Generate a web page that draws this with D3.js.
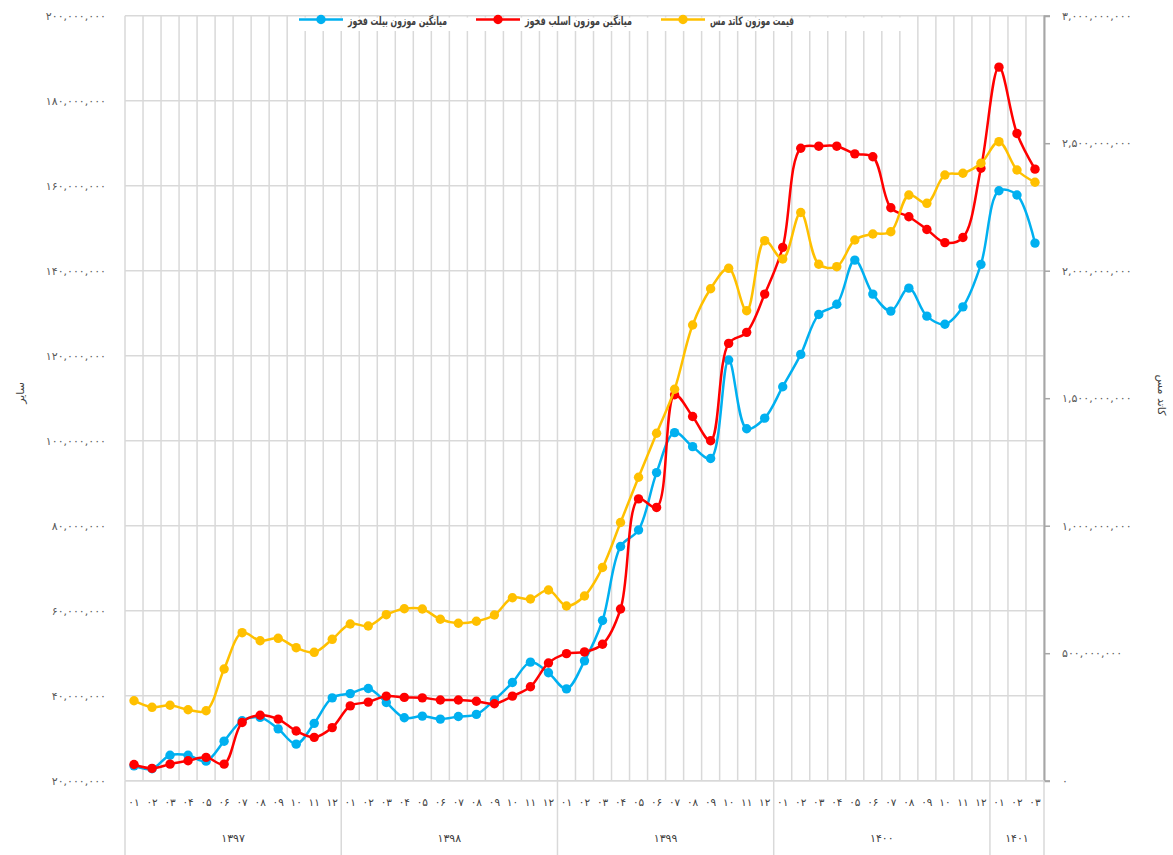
<!DOCTYPE html>
<html><head><meta charset="utf-8">
<script src="https://cdn.jsdelivr.net/npm/d3@7"></script>
<style>
html,body{margin:0;padding:0;background:#fff;}
svg{display:block;font-family:"DejaVu Sans","Noto Sans",sans-serif;}
</style></head>
<body><svg id="chart" width="1173" height="855"></svg>
<script>
// ---- data ----
const months = ["۰۱","۰۲","۰۳","۰۴","۰۵","۰۶","۰۷","۰۸","۰۹","۱۰","۱۱","۱۲",
                "۰۱","۰۲","۰۳","۰۴","۰۵","۰۶","۰۷","۰۸","۰۹","۱۰","۱۱","۱۲",
                "۰۱","۰۲","۰۳","۰۴","۰۵","۰۶","۰۷","۰۸","۰۹","۱۰","۱۱","۱۲",
                "۰۱","۰۲","۰۳","۰۴","۰۵","۰۶","۰۷","۰۸","۰۹","۱۰","۱۱","۱۲",
                "۰۱","۰۲","۰۳"];
const years = ["۱۳۹۷","۱۳۹۸","۱۳۹۹","۱۴۰۰","۱۴۰۱"];
const yearLengths = [12,12,12,12,3];
const seriesNames = ["میانگین موزون بیلت فخوز","میانگین موزون اسلب فخوز","قیمت موزون کاتد مس"];
// left axis (Rial)
const billet = [23.5,22.8,26.0,26.0,24.6,29.3,34.1,34.9,32.2,28.6,33.5,39.5,
                40.5,41.7,38.4,34.8,35.2,34.5,35.1,35.6,39.0,43.1,47.9,45.4,
                41.6,48.2,57.7,75.1,79.0,92.5,101.9,98.6,95.8,119.0,102.8,105.3,
                112.7,120.3,129.7,132.1,142.5,134.5,130.5,135.9,129.3,127.4,131.5,141.5,
                158.8,157.8,146.5].map(v=>v*1e6);
const slab = [23.8,22.9,23.9,24.7,25.5,23.9,33.7,35.4,34.5,31.7,30.2,32.5,
              37.6,38.5,39.9,39.6,39.5,39.0,39.0,38.7,38.1,39.9,42.1,47.7,
              49.9,50.3,52.1,60.4,86.3,84.3,110.8,105.7,100.0,122.9,125.5,134.5,
              145.5,168.8,169.3,169.3,167.5,166.8,154.8,152.7,149.7,146.6,147.8,164.1,
              187.9,172.3,163.9].map(v=>v*1e6);
// right axis (copper cathode)
const cathode = [313.7,287.8,295.7,278.4,274.5,438.0,580.4,549.0,558.4,521.6,503.5,554.5,
                 614.5,606.7,651.0,674.5,673.3,633.0,617.3,625.1,649.8,717.6,712.6,747.8,
                 685.1,724.3,836.1,1012.5,1189.8,1362.4,1534.9,1787.1,1929.4,2009.4,1843.2,2117.7,
                 2045.9,2228.2,2025.1,2015.7,2120.4,2143.9,2152.9,2296.9,2264.3,2375.3,2382.0,2421.2,
                 2505.9,2394.9,2346.7].map(v=>v*1e6);
const leftTicks = [20e6,40e6,60e6,80e6,100e6,120e6,140e6,160e6,180e6,200e6];
const rightTicks = [0,5e8,1e9,1.5e9,2e9,2.5e9,3e9];
const leftTitle = "سایر";
const rightTitle = "کاتد مس";
const colors = ["#00B0F0","#FF0000","#FFC000"];

// ---- helpers ----
const fa = s => String(s).replace(/\d/g, d => "۰۱۲۳۴۵۶۷۸۹"[+d]);
const fmt = v => fa(d3.format(",")(v));

// ---- layout ----
const L = 125, R = 1044, T = 15.7, B = 780.7;
const svg = d3.select("#chart");
const idx = d3.range(months.length);
const x = d3.scaleBand().domain(idx).range([L, R]).padding(0);
const cx = i => x(i) + x.bandwidth()/2;
const yL = d3.scaleLinear().domain([20e6, 200e6]).range([B, T]);
const yR = d3.scaleLinear().domain([0, 3e9]).range([B, T]);
const grid = "#d9d9d9";

// horizontal gridlines
svg.append("g").selectAll("line").data(leftTicks).join("line")
  .attr("x1", L).attr("x2", R).attr("y1", d=>yL(d)).attr("y2", d=>yL(d))
  .attr("stroke", grid).attr("stroke-width", 1.5);
// vertical gridlines (category boundaries)
svg.append("g").selectAll("line").data(d3.range(months.length+1)).join("line")
  .attr("x1", i => i<months.length ? x(i) : R).attr("x2", i => i<months.length ? x(i) : R)
  .attr("y1", T).attr("y2", B)
  .attr("stroke", grid).attr("stroke-width", 1.5);

// left axis labels
svg.append("g").selectAll("text").data(leftTicks).join("text")
  .attr("x", 106).attr("y", d=>yL(d)).attr("dy","0.35em")
  .attr("text-anchor","end").attr("font-size", 11).attr("fill","#595959")
  .text(d=>fmt(d));

// right axis
const ra = svg.append("g").attr("transform", `translate(${R},0)`)
  .call(d3.axisRight(yR).tickValues(rightTicks).tickSize(6).tickPadding(12).tickFormat(fmt));
ra.select(".domain").attr("stroke","#a6a6a6").attr("stroke-width",2);
ra.selectAll(".tick line").attr("stroke","#a6a6a6").attr("stroke-width",1.5);
ra.selectAll(".tick text").attr("font-size",11).attr("fill","#595959")
  .attr("font-family","DejaVu Sans");

// x axis area
const xa = svg.append("g");
xa.append("line").attr("x1", L).attr("x2", R).attr("y1", B).attr("y2", B)
  .attr("stroke", grid).attr("stroke-width", 1.5);
xa.selectAll("text.m").data(idx).join("text").attr("class","m")
  .attr("x", i=>cx(i)).attr("y", 802).attr("dy","0.35em")
  .attr("text-anchor","middle").attr("font-size", 10.5).attr("fill","#404040")
  .text(i=>months[i]);
let start = 0;
const bounds = [0];
yearLengths.forEach(n => { start += n; bounds.push(start); });
xa.selectAll("line.yb").data(bounds).join("line").attr("class","yb")
  .attr("x1", b => b<months.length ? x(b) : R).attr("x2", b => b<months.length ? x(b) : R)
  .attr("y1", B).attr("y2", 855).attr("stroke", grid).attr("stroke-width", 1.5);
xa.selectAll("text.y").data(years).join("text").attr("class","y")
  .attr("x", (d,k) => {
    const a = x(bounds[k]); const b = bounds[k+1]<months.length ? x(bounds[k+1]) : R;
    return (a+b)/2; })
  .attr("y", 838).attr("dy","0.35em").attr("text-anchor","middle")
  .attr("font-size", 11).attr("fill","#404040").text(d=>d);

// axis titles
svg.append("text").attr("transform","translate(20,393) rotate(-90)")
  .attr("text-anchor","middle").attr("dy","0.35em").attr("font-size",11).attr("fill","#404040")
  .text(leftTitle);
svg.append("text").attr("transform","translate(1162,395) rotate(90)")
  .attr("text-anchor","middle").attr("dy","0.35em").attr("font-size",11).attr("fill","#404040")
  .text(rightTitle);

// series
const series = [
  {vals: billet, y: yL, c: colors[0]},
  {vals: slab, y: yL, c: colors[1]},
  {vals: cathode, y: yR, c: colors[2]}
];
series.forEach(s => {
  const line = d3.line().x((d,i)=>cx(i)).y(d=>s.y(d)).curve(d3.curveCatmullRom.alpha(0.5));
  const g = svg.append("g");
  g.append("path").datum(s.vals).attr("d", line).attr("fill","none")
    .attr("stroke", s.c).attr("stroke-width", 2.5);
  g.selectAll("circle").data(s.vals).join("circle")
    .attr("cx", (d,i)=>cx(i)).attr("cy", d=>s.y(d)).attr("r", 4.7).attr("fill", s.c);
});

// legend (RTL: symbol on the left, text right of it)
const lg = svg.append("g");
lg.append("rect").attr("x", 292).attr("y", 17.5).attr("width", 615).attr("height", 13.5).attr("fill","#fff");
const legendItems = [
  {name: seriesNames[0], c: colors[0], x0: 299, tx: 447},
  {name: seriesNames[1], c: colors[1], x0: 476, tx: 632},
  {name: seriesNames[2], c: colors[2], x0: 661, tx: 794}
];
legendItems.forEach(it => {
  lg.append("line").attr("x1", it.x0).attr("x2", it.x0+44).attr("y1", 19.5).attr("y2", 19.5)
    .attr("stroke", it.c).attr("stroke-width", 2.5);
  lg.append("circle").attr("cx", it.x0+22).attr("cy", 19.5).attr("r", 4.7).attr("fill", it.c);
  const avail = it.tx - (it.x0 + 49);
  const t = lg.append("text").attr("x", it.x0 + 49).attr("y", 22).attr("dy","0.3em")
    .attr("font-size", 11.5).attr("font-weight","bold").attr("fill","#404040")
    .attr("text-anchor","start").text(it.name);
  const w = t.node().getComputedTextLength();
  if (w > avail) t.attr("textLength", avail).attr("lengthAdjust","spacingAndGlyphs");
});
</script>
</body></html>
